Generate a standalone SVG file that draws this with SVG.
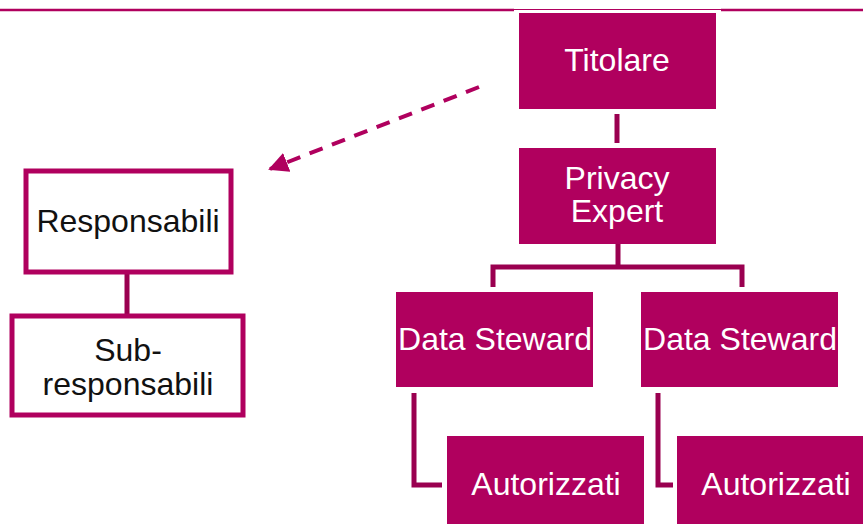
<svg xmlns="http://www.w3.org/2000/svg" width="863" height="524" viewBox="0 0 863 524">
<style>
.fill{fill:#B0005E}
.wbox{fill:#fff;stroke:#B0005E;stroke-width:5}
.lbl{font-family:"Liberation Sans",Arial,sans-serif;font-size:32px;text-anchor:middle}
.w{fill:#fff}
.k{fill:#111}
.conn{fill:none;stroke:#9A0050;stroke-width:5}
</style>
<defs>
<marker id="ah" viewBox="0 0 10 10" refX="9" refY="5" markerWidth="5" markerHeight="5" orient="auto" markerUnits="strokeWidth">
<path d="M0,0 L10,5 L0,10 z" fill="#B0005E"/>
</marker>
</defs>
<g id="header">
<line x1="0" y1="10" x2="514" y2="10" stroke="#B0005E" stroke-width="2.5"/>
<line x1="514" y1="9.5" x2="721" y2="9.5" stroke="#B0005E" stroke-width="1"/>
<line x1="721" y1="10" x2="863" y2="10" stroke="#B0005E" stroke-width="2.5"/>
</g>
<g id="connectors">
<line class="conn" x1="617" y1="114" x2="617" y2="143"/>
<path class="conn" d="M618,244 V267 M493,287 V267 H742 V287"/>
<path class="conn" d="M414,393 V485 H442"/>
<path class="conn" d="M658,393 V485 H673"/>
<line class="conn" x1="127" y1="273" x2="127" y2="314"/>
<line x1="479" y1="87" x2="270" y2="169" stroke="#B0005E" stroke-width="4" stroke-dasharray="14,10" marker-end="url(#ah)"/>
</g>
<g id="titolare">
<rect class="fill" x="519" y="13" width="197" height="96"/>
<text class="lbl w" x="617" y="71">Titolare</text>
</g>
<g id="privacy-expert">
<rect class="fill" x="519" y="148" width="197" height="96"/>
<text class="lbl w" x="617" y="189">Privacy</text>
<text class="lbl w" x="617" y="222">Expert</text>
</g>
<g id="data-steward-1">
<rect class="fill" x="396" y="292" width="197" height="95"/>
<text class="lbl w" x="495" y="350">Data Steward</text>
</g>
<g id="data-steward-2">
<rect class="fill" x="641" y="292" width="197" height="95"/>
<text class="lbl w" x="740" y="350">Data Steward</text>
</g>
<g id="autorizzati-1">
<rect class="fill" x="447" y="436" width="197" height="88"/>
<text class="lbl w" x="546" y="495">Autorizzati</text>
</g>
<g id="autorizzati-2">
<rect class="fill" x="677" y="436" width="197" height="88"/>
<text class="lbl w" x="776" y="495">Autorizzati</text>
</g>
<g id="responsabili">
<rect class="wbox" x="26" y="171" width="205" height="101"/>
<text class="lbl k" x="128" y="232">Responsabili</text>
</g>
<g id="sub-responsabili">
<rect class="wbox" x="12" y="316" width="231" height="99"/>
<text class="lbl k" x="128" y="361">Sub-</text>
<text class="lbl k" x="128" y="395">responsabili</text>
</g>
</svg>
